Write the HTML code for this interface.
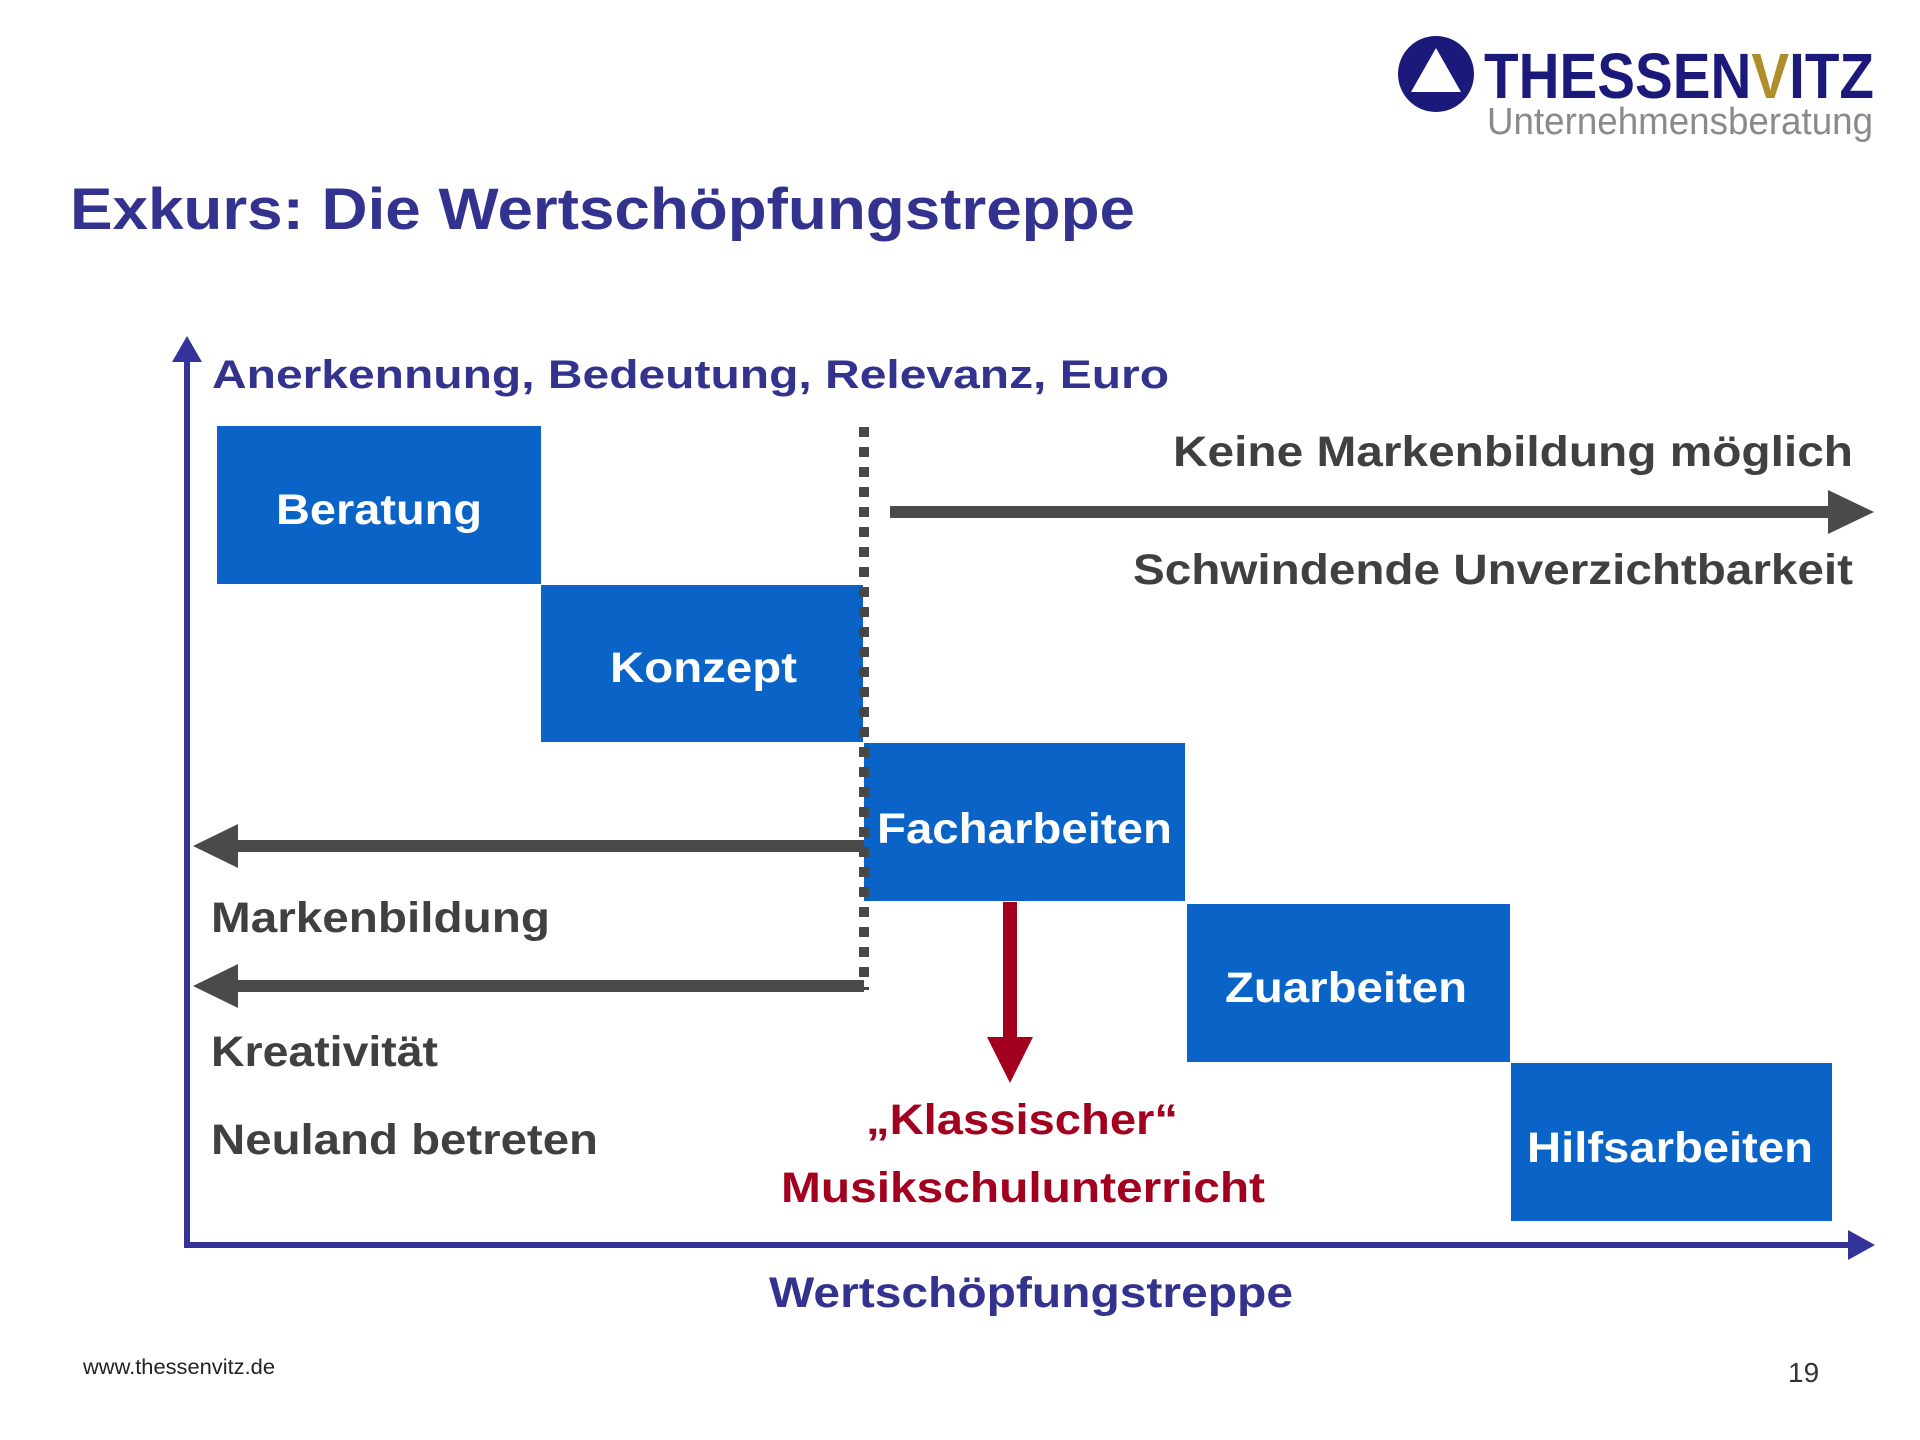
<!DOCTYPE html>
<html><head><meta charset="utf-8"><style>
html,body{margin:0;padding:0;background:#fff;}
svg{display:block;}
text{font-family:"Liberation Sans",Arial,sans-serif;font-weight:bold;}
</style></head><body>
<svg width="1920" height="1440" viewBox="0 0 1920 1440" xmlns="http://www.w3.org/2000/svg">
<!-- logo -->
<circle cx="1436" cy="74" r="38" fill="#1b1a7a"/>
<polygon points="1436,48 1461,92 1411,92" fill="#fff"/>
<text x="1484" y="98" font-size="64" fill="#1b1a7a" textLength="390" lengthAdjust="spacingAndGlyphs">THESSEN<tspan fill="#b08d2a">V</tspan>ITZ</text>
<text x="1487" y="134" font-size="38" fill="#8a8a8a" textLength="386" lengthAdjust="spacingAndGlyphs" style="font-weight:normal">Unternehmensberatung</text>
<!-- title -->
<text x="70" y="229" font-size="58" fill="#33338f" textLength="1065" lengthAdjust="spacingAndGlyphs">Exkurs: Die Wertschöpfungstreppe</text>
<!-- axes -->
<rect x="184" y="355" width="6" height="893" fill="#33339a"/>
<polygon points="187,336 172,362 202,362" fill="#33339a"/>
<rect x="184" y="1242" width="1670" height="6" fill="#33339a"/>
<polygon points="1875,1245 1848,1230 1848,1260" fill="#33339a"/>
<text x="212" y="388" font-size="40" fill="#33338f" textLength="957" lengthAdjust="spacingAndGlyphs">Anerkennung, Bedeutung, Relevanz, Euro</text>
<!-- boxes -->
<g fill="#0a64c8">
<rect x="217" y="426" width="324" height="158"/>
<rect x="541" y="585" width="322" height="157"/>
<rect x="864" y="743" width="321" height="158"/>
<rect x="1187" y="904" width="323" height="158"/>
<rect x="1511" y="1063" width="321" height="158"/>
</g>
<g fill="#fff" font-size="43">
<text x="276" y="524" textLength="206" lengthAdjust="spacingAndGlyphs">Beratung</text>
<text x="610" y="682" textLength="187" lengthAdjust="spacingAndGlyphs">Konzept</text>
<text x="877" y="843" textLength="295" lengthAdjust="spacingAndGlyphs">Facharbeiten</text>
<text x="1225" y="1002" textLength="242" lengthAdjust="spacingAndGlyphs">Zuarbeiten</text>
<text x="1527" y="1162" textLength="286" lengthAdjust="spacingAndGlyphs">Hilfsarbeiten</text>
</g>
<!-- dotted line -->
<line x1="864" y1="427" x2="864" y2="990" stroke="#474747" stroke-width="10" stroke-dasharray="10,10"/>
<!-- right arrow -->
<rect x="890" y="506" width="950" height="12" fill="#4a4a4a"/>
<polygon points="1874,512 1828,490 1828,534" fill="#4a4a4a"/>
<text x="1173" y="466" font-size="43" fill="#404040" textLength="680" lengthAdjust="spacingAndGlyphs">Keine Markenbildung möglich</text>
<text x="1133" y="584" font-size="43" fill="#404040" textLength="720" lengthAdjust="spacingAndGlyphs">Schwindende Unverzichtbarkeit</text>
<!-- left arrows -->
<rect x="230" y="840" width="634" height="12" fill="#4a4a4a"/>
<polygon points="193,846 238,824 238,868" fill="#4a4a4a"/>
<rect x="230" y="980" width="634" height="12" fill="#4a4a4a"/>
<polygon points="193,986 238,964 238,1008" fill="#4a4a4a"/>
<g font-size="43" fill="#404040">
<text x="211" y="932" textLength="339" lengthAdjust="spacingAndGlyphs">Markenbildung</text>
<text x="211" y="1066" textLength="227" lengthAdjust="spacingAndGlyphs">Kreativität</text>
<text x="211" y="1154" textLength="387" lengthAdjust="spacingAndGlyphs">Neuland betreten</text>
</g>
<!-- red arrow -->
<rect x="1003" y="902" width="14" height="138" fill="#a3001f"/>
<polygon points="1010,1083 987,1037 1033,1037" fill="#a3001f"/>
<g font-size="43" fill="#a3001f">
<text x="866" y="1134" textLength="312" lengthAdjust="spacingAndGlyphs">„Klassischer“</text>
<text x="781" y="1202" textLength="484" lengthAdjust="spacingAndGlyphs">Musikschulunterricht</text>
</g>
<text x="769" y="1307" font-size="43" fill="#33338f" textLength="524" lengthAdjust="spacingAndGlyphs">Wertschöpfungstreppe</text>
<text x="83" y="1374" font-size="21" fill="#222" textLength="192" lengthAdjust="spacingAndGlyphs" style="font-weight:normal">www.thessenvitz.de</text>
<text x="1788" y="1382" font-size="28" fill="#333" style="font-weight:normal">19</text>
</svg>
</body></html>
